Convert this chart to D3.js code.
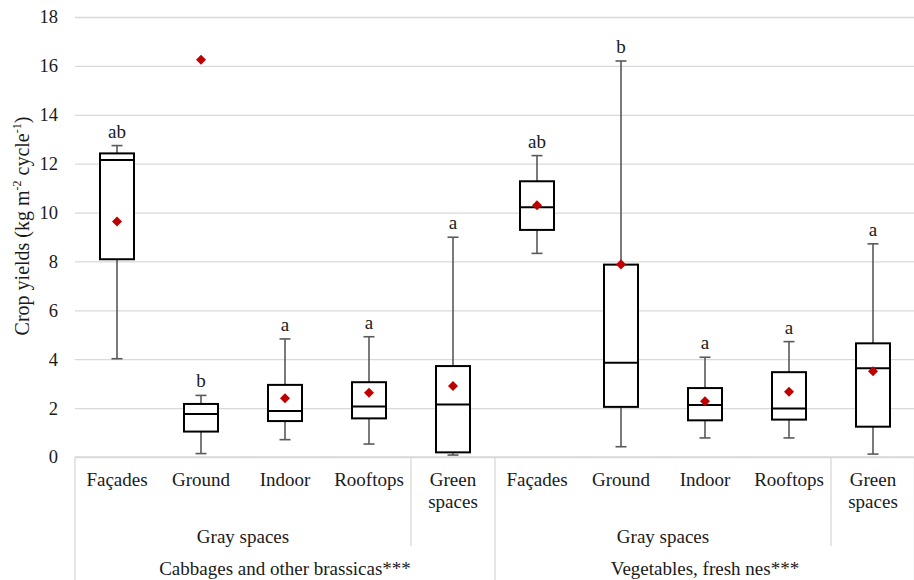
<!DOCTYPE html>
<html>
<head>
<meta charset="utf-8">
<script src="https://cdn.jsdelivr.net/npm/d3@7"></script>
<style>
  body { margin: 0; background: #fff; }
  svg text { font-family: "Liberation Serif", "Times New Roman", serif; fill: #1a1a1a; }
</style>
</head>
<body>
<div id="chart"></div>
<script>
// categories, left to right
var crops = ["Cabbages and other brassicas***", "Vegetables, fresh nes***"];
var places = ["Façades", "Ground", "Indoor", "Rooftops", "Green spaces"];
var spaceType = ["Gray spaces", "Gray spaces", "Gray spaces", "Gray spaces", "Green spaces"];

// box values per crop (same order as places)
var whiskerLow  = [[4.02, 0.14, 0.71, 0.53, 0.08], [8.33, 0.42, 0.78, 0.78, 0.12]];
var q1          = [[8.09, 1.04, 1.47, 1.58, 0.19], [9.29, 2.05, 1.50, 1.53, 1.24]];
var median      = [[12.15, 1.76, 1.88, 2.07, 2.15], [10.22, 3.86, 2.13, 1.98, 3.63]];
var q3          = [[12.42, 2.17, 2.95, 3.06, 3.72], [11.28, 7.87, 2.82, 3.47, 4.65]];
var whiskerHigh = [[12.74, 2.52, 4.83, 4.92, 8.99], [12.33, 16.2, 4.08, 4.72, 8.72]];
var means       = [[9.63, 16.25, 2.40, 2.63, 2.90], [10.30, 7.88, 2.28, 2.67, 3.51]];
var letters     = [["ab", "b", "a", "a", "a"], ["ab", "b", "a", "a", "a"]];

var yTicks = [0, 2, 4, 6, 8, 10, 12, 14, 16, 18];

var W = 914, H = 580;
var mLeft = 75, mRight = 915, mTop = 17, mBottom = 457;

var svg = d3.select("#chart").append("svg")
  .attr("width", W).attr("height", H);

var rows = [];
crops.forEach(function (c, ci) {
  places.forEach(function (p, pi) {
    rows.push({
      key: ci + "-" + pi, ci: ci, pi: pi,
      lo: whiskerLow[ci][pi], q1: q1[ci][pi], med: median[ci][pi],
      q3: q3[ci][pi], hi: whiskerHigh[ci][pi], mean: means[ci][pi],
      letter: letters[ci][pi]
    });
  });
});

var x = d3.scaleBand().domain(rows.map(function (d) { return d.key; }))
  .range([mLeft, mRight]).padding(0);
var y = d3.scaleLinear().domain([0, 18]).range([mBottom, mTop]);

// gridlines + tick labels
var yAxis = d3.axisLeft(y).tickValues(yTicks).tickSize(-(mRight - mLeft)).tickPadding(17);
var gy = svg.append("g").attr("transform", "translate(" + mLeft + ",0)").call(yAxis);
gy.select(".domain").remove();
gy.selectAll(".tick line").attr("stroke", "#d9d9d9").attr("stroke-width", 1.3);
gy.selectAll(".tick text").attr("font-size", 18.5).attr("fill", "#1a1a1a")
  .style("font-family", "Liberation Serif");

// y title
svg.append("text")
  .attr("transform", "translate(29," + 226 + ") rotate(-90)")
  .attr("text-anchor", "middle").attr("font-size", 20)
  .html('Crop yields (kg m<tspan dy="-8" font-size="12">-2</tspan><tspan dy="8"> cycle</tspan><tspan dy="-8" font-size="12">-1</tspan><tspan dy="8">)</tspan>');

// category axis frame
var gx = svg.append("g");
var bw = x.bandwidth();
var grey = "#d9d9d9";
var fs = 19;
gx.append("line").attr("x1", mLeft).attr("x2", mRight).attr("y1", mBottom).attr("y2", mBottom)
  .attr("stroke", grey).attr("stroke-width", 1.3);
crops.forEach(function (c, ci) {
  var x0 = x(ci + "-0");
  var xg = x(ci + "-4");
  gx.append("line").attr("x1", x0).attr("x2", x0).attr("y1", mBottom).attr("y2", H)
    .attr("stroke", grey).attr("stroke-width", 1.3);
  gx.append("line").attr("x1", xg).attr("x2", xg).attr("y1", mBottom).attr("y2", 546)
    .attr("stroke", grey).attr("stroke-width", 1.3);
  // place labels
  places.forEach(function (p, pi) {
    var cx = x(ci + "-" + pi) + bw / 2;
    var words = p === "Green spaces" ? ["Green", "spaces"] : [p];
    words.forEach(function (w, wi) {
      gx.append("text").attr("x", cx).attr("y", 486 + wi * 22)
        .attr("text-anchor", "middle").attr("font-size", fs).text(w);
    });
  });
  // space type label (gray spaces span)
  var grayMid = (x0 + xg) / 2;
  gx.append("text").attr("x", grayMid).attr("y", 543).attr("text-anchor", "middle")
    .attr("font-size", fs).text(spaceType[0]);
  // crop label
  gx.append("text").attr("x", x0 + bw * 2.5).attr("y", 575).attr("text-anchor", "middle")
    .attr("font-size", fs).text(c);
});
gx.append("line").attr("x1", mRight - 0.5).attr("x2", mRight - 0.5).attr("y1", mBottom).attr("y2", H)
  .attr("stroke", grey).attr("stroke-width", 1.3);

// boxes
var boxW = 34, capW = 11;
var g = svg.selectAll(".box").data(rows).enter().append("g").attr("class", "box")
  .attr("transform", function (d) { return "translate(" + (x(d.key) + bw / 2) + ",0)"; });

g.append("line").attr("x1", 0).attr("x2", 0)
  .attr("y1", function (d) { return y(d.hi); }).attr("y2", function (d) { return y(d.q3); })
  .attr("stroke", "#595959").attr("stroke-width", 1.6);
g.append("line").attr("x1", 0).attr("x2", 0)
  .attr("y1", function (d) { return y(d.q1); }).attr("y2", function (d) { return y(d.lo); })
  .attr("stroke", "#595959").attr("stroke-width", 1.6);
g.append("line").attr("x1", -capW / 2).attr("x2", capW / 2)
  .attr("y1", function (d) { return y(d.hi); }).attr("y2", function (d) { return y(d.hi); })
  .attr("stroke", "#595959").attr("stroke-width", 1.6);
g.append("line").attr("x1", -capW / 2).attr("x2", capW / 2)
  .attr("y1", function (d) { return y(d.lo); }).attr("y2", function (d) { return y(d.lo); })
  .attr("stroke", "#595959").attr("stroke-width", 1.6);
g.append("rect").attr("x", -boxW / 2).attr("width", boxW)
  .attr("y", function (d) { return y(d.q3); })
  .attr("height", function (d) { return y(d.q1) - y(d.q3); })
  .attr("fill", "#fff").attr("stroke", "#000").attr("stroke-width", 2);
g.append("line").attr("x1", -boxW / 2).attr("x2", boxW / 2)
  .attr("y1", function (d) { return y(d.med); }).attr("y2", function (d) { return y(d.med); })
  .attr("stroke", "#000").attr("stroke-width", 2);
g.append("path")
  .attr("d", d3.symbol().type(d3.symbolDiamond2).size(64))
  .attr("transform", function (d) { return "translate(0," + y(d.mean) + ")"; })
  .attr("fill", "#c00000");
g.append("text").attr("x", 0)
  .attr("y", function (d) { return y(d.hi) - 8; })
  .attr("text-anchor", "middle").attr("font-size", fs)
  .text(function (d) { return d.letter; });
</script>
</body>
</html>
